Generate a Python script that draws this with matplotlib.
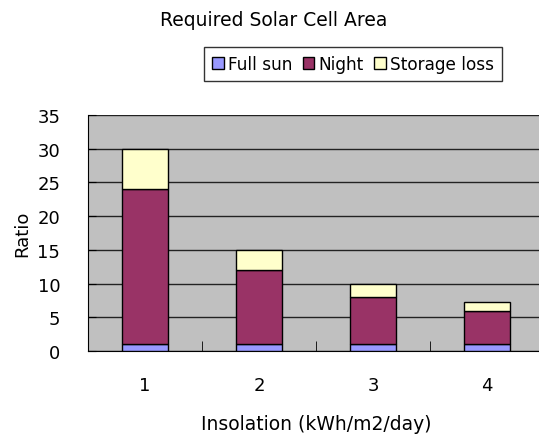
import matplotlib
matplotlib.use("Agg")
import matplotlib.pyplot as plt
import numpy as np

categories = ["1", "2", "3", "4"]
full_sun = [1, 1, 1, 1]
night = [23, 11, 7, 5]
storage_loss = [6, 3, 2, 1.25]
yticks = [0, 5, 10, 15, 20, 25, 30, 35]

plt.rcParams['font.family'] = ['DejaVu Sans']

fig = plt.figure(figsize=(5.39, 4.39), dpi=100)
W, H = 539, 439
ax = fig.add_axes([88 / W, 1 - 352 / H, (544 - 88) / W, (352 - 116) / H])
ax.set_facecolor('#C0C0C0')

x = np.arange(len(categories))
bw = 0.4
ec = '#000000'
ax.bar(x, full_sun, bw, color='#9999FF', edgecolor=ec, linewidth=1, label='Full sun', zorder=3)
ax.bar(x, night, bw, bottom=full_sun, color='#993366', edgecolor=ec, linewidth=1, label='Night', zorder=3)
bottom2 = [a + b for a, b in zip(full_sun, night)]
ax.bar(x, storage_loss, bw, bottom=bottom2, color='#FFFFCC', edgecolor=ec, linewidth=1, label='Storage loss', zorder=3)

ax.set_xlim(-0.5, len(categories) - 0.5)
ax.set_ylim(0, 35)
ax.set_yticks(yticks)
ax.yaxis.grid(True, color='#222222', linewidth=1, zorder=1)
ax.set_axisbelow(True)

ax.set_xticks(x)
ax.set_xticklabels(categories, fontsize=13)
ax.tick_params(axis='x', length=0, pad=18)
ax.set_xticks(np.arange(0.5, len(categories) - 0.5, 1), minor=True)
ax.tick_params(axis='x', which='minor', direction='in', length=7, color='black')
ax.tick_params(axis='y', direction='in', length=6, labelsize=13, pad=20)

for s in ['top', 'right']:
    ax.spines[s].set_visible(False)
ax.spines['left'].set_color('black')
ax.spines['bottom'].set_color('black')

fig.text(22 / W, 1 - 234 / H, 'Ratio', rotation=90, ha='center', va='center', fontsize=13)
fig.text(316 / W, 1 - 425 / H, 'Insolation (kWh/m2/day)', ha='center', va='center', fontsize=13.5)
fig.text(274 / W, 1 - 20 / H, 'Required Solar Cell Area', ha='center', va='center', fontsize=13.5)

leg = fig.legend(loc='center', bbox_to_anchor=(353 / W, 1 - 65 / H), ncol=3, fontsize=12.2,
                 frameon=True, fancybox=False, edgecolor='black', handlelength=0.7,
                 handleheight=0.7, handletextpad=0.25, columnspacing=0.6, borderpad=0.45,
                 borderaxespad=0)
leg.get_frame().set_linewidth(1)

fig.savefig('out.png', dpi=100)
